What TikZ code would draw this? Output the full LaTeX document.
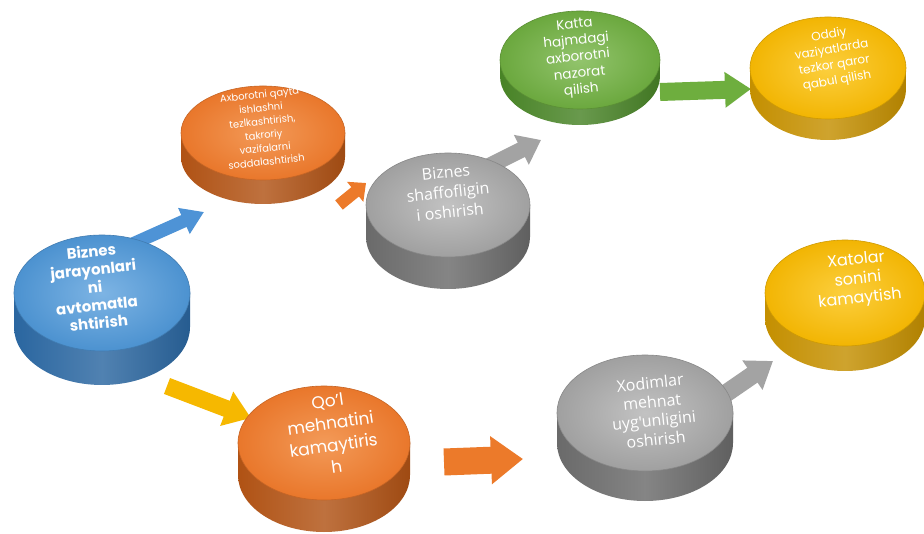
\documentclass[tikz,border=0pt]{standalone}
\usepackage{fontspec}
\setmainfont{Poppins}
\newfontfamily\osans{Open Sans}
\usetikzlibrary{shapes.geometric,arrows.meta,backgrounds}
\definecolor{bTop}{HTML}{4C92D0}\definecolor{bLt}{HTML}{7DB4E4}\definecolor{bSd}{HTML}{2A66A0}
\definecolor{oTop}{HTML}{E9772B}\definecolor{oLt}{HTML}{F39A58}\definecolor{oSd}{HTML}{B05214}
\definecolor{gTop}{HTML}{A0A0A0}\definecolor{gLt}{HTML}{C2C2C2}\definecolor{gSd}{HTML}{6A6A6A}
\definecolor{nTop}{HTML}{6BA83E}\definecolor{nLt}{HTML}{92C46C}\definecolor{nSd}{HTML}{488326}
\definecolor{yTop}{HTML}{F2B503}\definecolor{yLt}{HTML}{FCCF3E}\definecolor{ySd}{HTML}{C48F00}
\definecolor{bArr}{HTML}{4E93D6}\definecolor{oArr}{HTML}{EC7A2A}\definecolor{gArr}{HTML}{A3A3A3}
\definecolor{nArr}{HTML}{6EAE3E}\definecolor{yArr}{HTML}{F6B800}
\newcommand\mkdisk[9]{%
  \shade[left color=#9, right color=#9!90!black, middle color=#9!82!white]
    (#2-#4,#3) -- (#2-#4,#3-#6) arc[start angle=180,end angle=360,x radius=#4pt,y radius=#5pt]
    -- (#2+#4,#3) -- cycle;
  \node[ellipse, inner sep=0pt, minimum width=2*#4pt, minimum height=2*#5pt,
        shading=radial, inner color=#8, outer color=#7, draw=#7!85!black, line width=0.6pt]
        (#1) at (#2,#3) {};
}
\tikzset{
  disktext/.style={align=center, text=white, rotate=6, inner sep=1pt},
  blockarrow/.style n args={4}{draw=#1, line width=#2pt, -{Triangle[width=#3pt,length=#4pt]}}
}
\begin{document}
\begin{tikzpicture}[x=1pt,y=1pt]
\useasboundingbox (0,0) rectangle (924,-534);
\begin{pgfonlayer}{background}
\fill[white] (0,0) rectangle (924,-534);
\end{pgfonlayer}
% disks
\mkdisk{blue}{102}{-293}{88}{58}{34}{bTop}{bLt}{bSd}
\mkdisk{orA}{263}{-133}{82}{47}{24}{oTop}{oLt}{oSd}
\mkdisk{grA}{448}{-205}{82}{52}{32}{gTop}{gLt}{gSd}
\mkdisk{grn}{580}{-60}{80}{49}{16}{nTop}{nLt}{nSd}
\mkdisk{yeA}{828}{-68}{78}{51}{21}{yTop}{yLt}{ySd}
\mkdisk{yeB}{845}{-293}{80}{53}{25}{yTop}{yLt}{ySd}
\mkdisk{orB}{324}{-443}{86}{57}{32}{oTop}{oLt}{oSd}
\mkdisk{grB}{645}{-413}{88}{58}{30}{gTop}{gLt}{gSd}
% texts
\node[disktext, font=\bfseries\fontsize{15}{18}\selectfont] (t1) at (95,-287)
  {Biznes\\jarayonlari\\ni\\avtomatla\\shtirish};
\node[disktext, font=\fontsize{10}{13.5}\selectfont] (t2) at (263,-128)
  {Axborotni qayta\\ishlashni\\tezlkashtirish,\\takroriy\\vazifalarni\\soddalashtirish};
\node[disktext, font=\osans\fontsize{16}{20}\selectfont] (t3) at (448,-192)
  {Biznes\\shaffofligin\\i oshirish};
\node[disktext, font=\fontsize{13.5}{16.5}\selectfont] (t4) at (578,-58)
  {Katta\\hajmdagi\\axborotni\\nazorat\\qilish};
\node[disktext, rotate=4, font=\fontsize{12}{15.5}\selectfont] (t5) at (833,-58)
  {Oddiy\\vaziyatlarda\\tezkor qaror\\qabul qilish};
\node[disktext, font=\fontsize{16}{19.5}\selectfont] (t6) at (858,-280)
  {Xatolar\\sonini\\kamaytish};
\node[disktext, rotate=2, font=\fontsize{17}{22}\selectfont] (t7) at (332,-434)
  {Qo'l\\mehnatini\\kamaytiris\\h};
\node[disktext, font=\osans\fontsize{16}{19}\selectfont] (t8) at (653,-411)
  {Xodimlar\\mehnat\\uyg'unligini\\oshirish};
% arrow ends
\coordinate (a1s) at (128,-246); \coordinate (a1e) at (204,-212);
\coordinate (a2s) at (339,-205); \coordinate (a2e) at (366,-183);
\coordinate (a3s) at (485,-168); \coordinate (a3e) at (541,-140);
\coordinate (a4s) at (660,-92);  \coordinate (a4e) at (751,-89);
\coordinate (a5s) at (167,-386); \coordinate (a5e) at (251,-418);
\coordinate (a6s) at (444,-462); \coordinate (a6e) at (523,-459);
\coordinate (a7s) at (712,-403); \coordinate (a7e) at (773,-361);
\begin{pgfonlayer}{background}
\draw[blockarrow={bArr}{13}{27}{22}] (a1s) -- (a1e);
\draw[blockarrow={oArr}{12}{25}{14}] (a2s) -- (a2e);
\draw[blockarrow={gArr}{16}{32}{22}] (a3s) -- (a3e);
\draw[blockarrow={nArr}{18}{34}{26}] (a4s) -- (a4e);
\draw[blockarrow={yArr}{17}{35}{26}] (a5s) -- (a5e);
\draw[blockarrow={oArr}{27}{46}{32}] (a6s) -- (a6e);
\draw[blockarrow={gArr}{18}{34}{25}] (a7s) -- (a7e);
\end{pgfonlayer}
\end{tikzpicture}
\end{document}
